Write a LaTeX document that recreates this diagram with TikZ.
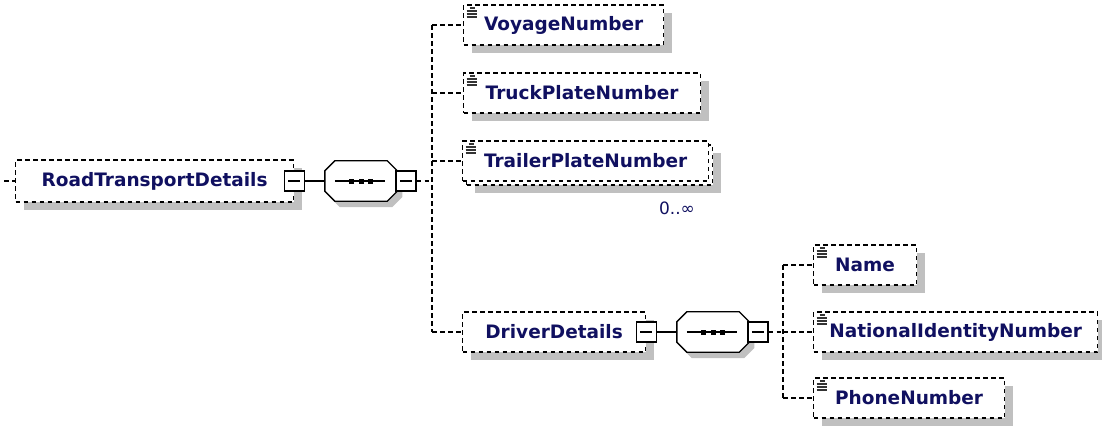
\documentclass[tikz,border=0pt]{standalone}
\usepackage{fontspec}
\setmainfont{DejaVu Sans}
\usetikzlibrary{positioning,shadows}
\definecolor{elemtext}{RGB}{16,16,96}
\definecolor{shadowgray}{RGB}{192,192,192}

\begin{document}
\begin{tikzpicture}[x=1pt,y=-1pt,
		link/.style={line width=1.2pt,dash pattern=on 4.5pt off 3.5pt},
		box/.style={draw,line width=1.2pt,dash pattern=on 4.5pt off 3.5pt,fill=white,anchor=west,
			minimum height=40pt,inner sep=0pt,text=elemtext,font=\bfseries\fontsize{18.5}{20}\selectfont},
		shade/.style={drop shadow={shadow xshift=8pt,shadow yshift=-8pt,fill=shadowgray,opacity=1}},
		icon/.style={path picture={
			\draw[solid,line width=1.2pt,black!80] ([xshift=6pt,yshift=-3pt]path picture bounding box.north west) -- ++(5pt,0pt);
			\foreach \k in {1,2,3}
				\draw[solid,line width=1.2pt,black!80] ([xshift=3pt,yshift={-3pt-3pt*\k}]path picture bounding box.north west) -- ++(10pt,0pt);}},
		elem/.style={box,shade},
		leaf/.style={box,shade,icon},
		minusbox/.style={draw,solid,line width=1.3pt,fill=white,minimum size=20pt,inner sep=0pt,
			path picture={\draw[line width=1.3pt] ([xshift=4pt]path picture bounding box.west) -- ([xshift=-4pt]path picture bounding box.east);}},
		seqbox/.style={rectangle,minimum width=72pt,minimum height=40pt,inner sep=0pt,anchor=west},
		mult/.style={text=elemtext,font=\fontsize{17}{19}\selectfont,inner sep=0pt}]

		\useasboundingbox (0,0) rectangle (1102,426);

		% root element and its sequence
		\node[elem,minimum width=278pt,minimum height=42pt] (rtd) at (15,181) {RoadTransportDetails};
		\node[minusbox] (rtdminus) at (rtd.east) {};
		\node[seqbox,right=20pt of rtdminus] (seq) {};

		% children of the sequence
		\node[leaf,minimum width=200pt] (voyage) at (463,25) {VoyageNumber};
		\node[leaf,minimum width=237pt] (truck) at (463,93) {TruckPlateNumber};
		\node[box,shade,minimum width=246pt] (trailerback) at (466,165) {};
		\node[box,icon,minimum width=246pt] (trailer) at (462,161) {TrailerPlateNumber};
		\node[mult] (trailermult) at (677,208) {0..∞};
		\node[elem,minimum width=183pt] (driver) at (462,332) {DriverDetails};
		\node[minusbox] (driverminus) at (driver.east) {};
		\node[seqbox,right=20pt of driverminus] (dseq) {};

		% sequence octagons
		\foreach \s in {seq,dseq}{
			\draw[line width=1.3pt,fill=white,drop shadow={shadow xshift=5pt,shadow yshift=-6pt,fill=shadowgray,opacity=1}]
				([xshift=10pt]\s.north west) -- ([xshift=-10pt]\s.north east) -- ([yshift=-10pt]\s.north east) --
				([yshift=10pt]\s.south east) -- ([xshift=-10pt]\s.south east) -- ([xshift=10pt]\s.south west) --
				([yshift=10pt]\s.south west) -- ([yshift=-10pt]\s.north west) -- cycle;
			\draw[line width=1.3pt] ([xshift=10pt]\s.west) -- ([xshift=-12pt]\s.east);
			\foreach \dx in {-9.5,0,9.5}
				\fill[black] ([xshift=\dx pt]\s.center) +(-2.5pt,-2.5pt) rectangle +(2.5pt,2.5pt);
		}
		\node[minusbox,right=-2pt of seq] (seqminus) {};
		\node[minusbox,right=-2pt of dseq] (dseqminus) {};

		% children of the driver sequence
		\node[leaf,minimum width=103pt] (name) at (813,265) {Name};
		\node[leaf,minimum width=284pt] (nin) at (813,332) {NationalIdentityNumber};
		\node[leaf,minimum width=191pt] (phone) at (813,398) {PhoneNumber};

		% connectors
		\coordinate (rootin) at (4,181);
		\coordinate (trunk) at (432,0);
		\coordinate (dtrunk) at (783,0);
		\draw[link] (rootin) -- (rtd.west);
		\draw[line width=1.3pt] (rtdminus.east) -- (seq.west);
		\draw[link] (seqminus.east) -- (trunk |- seqminus.east);
		\draw[link] (trunk |- voyage.west) -- (trunk |- driver.west);
		\foreach \n in {voyage,truck,trailer,driver}
			\draw[link] (trunk |- \n.west) -- (\n.west);
		\draw[line width=1.3pt] (driverminus.east) -- (dseq.west);
		\draw[link] (dseqminus.east) -- (dtrunk |- dseqminus.east);
		\draw[link] (dtrunk |- name.west) -- (dtrunk |- phone.west);
		\foreach \n in {name,nin,phone}
			\draw[link] (dtrunk |- \n.west) -- (\n.west);

	\end{tikzpicture}
\end{document}
